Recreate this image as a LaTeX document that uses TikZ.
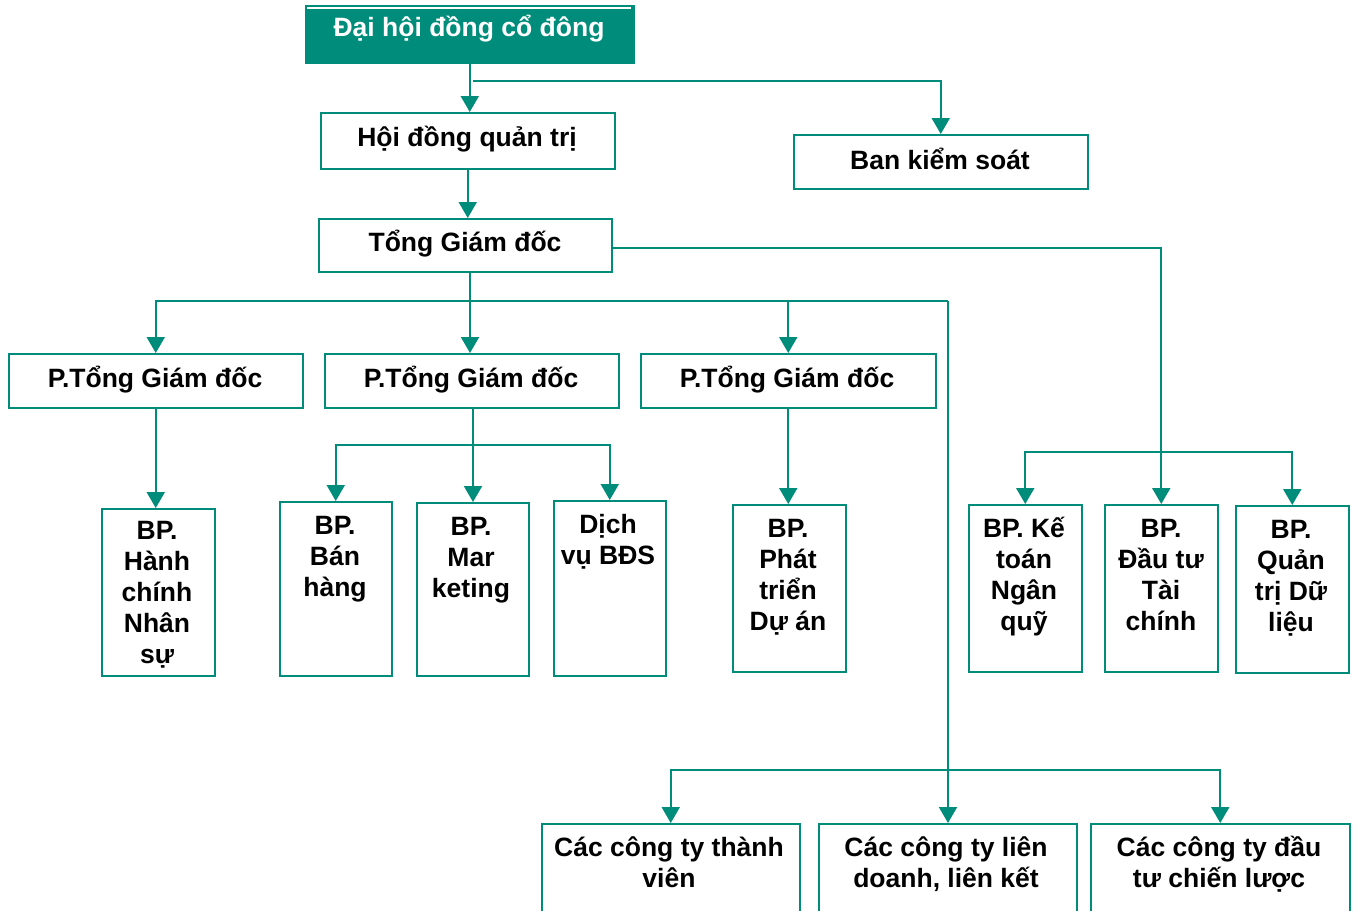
\documentclass[tikz,border=0pt]{standalone}
\usepackage{fontspec}
\setmainfont{Liberation Sans}
\usetikzlibrary{arrows.meta}
\definecolor{teal1}{RGB}{0,140,122}
\begin{document}
\begin{tikzpicture}[x=0.5pt,y=-0.5pt,
  box/.style={draw=teal1, line width=0.75pt, inner sep=0, anchor=north west},
  lbl/.style={font=\fontsize{13.25}{15.5}\selectfont\bfseries, align=center, inner sep=0},
  conn/.style={draw=teal1, line width=1pt},
  arr/.style={conn, -{Triangle[length=8pt,width=9pt]}}]
\clip (0,0) rectangle (1353,910);
\fill[white] (0,0) rectangle (1353,910);
% boxes
\node[box, fill=teal1, minimum width=164pt, minimum height=28.5pt] (dh) at (305,5) {};
\draw[white, line width=0.6pt] (307,8) -- (631,8);
\node[box, minimum width=147pt, minimum height=28pt] (hd) at (320,112) {};
\node[box, minimum width=147pt, minimum height=27pt] (bks) at (793,134) {};
\node[box, minimum width=146.5pt, minimum height=26.5pt] (tgd) at (318,218) {};
\node[box, minimum width=147pt, minimum height=27pt] (p1) at (8,353) {};
\node[box, minimum width=147pt, minimum height=27pt] (p2) at (324,353) {};
\node[box, minimum width=147.5pt, minimum height=27pt] (p3) at (640,353) {};
\node[box, minimum width=56.5pt, minimum height=83.5pt] (hc) at (101,508) {};
\node[box, minimum width=56pt, minimum height=87pt] (bh) at (279,501) {};
\node[box, minimum width=56pt, minimum height=86.5pt] (mk) at (416,502) {};
\node[box, minimum width=56pt, minimum height=87.5pt] (dv) at (553,500) {};
\node[box, minimum width=56.5pt, minimum height=83.5pt] (pt) at (732,504) {};
\node[box, minimum width=56.5pt, minimum height=83.5pt] (kt) at (968,504) {};
\node[box, minimum width=56.5pt, minimum height=83.5pt] (dt) at (1104,504) {};
\node[box, minimum width=56.5pt, minimum height=83.5pt] (qt) at (1235,505) {};
\node[box, minimum width=129pt, minimum height=53.5pt] (c1) at (541,823) {};
\node[box, minimum width=129pt, minimum height=53.5pt] (c2) at (818,823) {};
\node[box, minimum width=129.5pt, minimum height=53.5pt] (c3) at (1090,823) {};
% single-line labels
\node[lbl, anchor=base, text=white] (tdh) at (469,36.5) {Đại hội đồng cổ đông};
\node[lbl, anchor=base] (thd) at (467,146.5) {Hội đồng quản trị};
\node[lbl, anchor=base] (tbks) at (940,169.5) {Ban kiểm soát};
\node[lbl, anchor=base] (ttgd) at (465,251.5) {Tổng Giám đốc};
\node[lbl, anchor=base] (tp1) at (155,387.5) {P.Tổng Giám đốc};
\node[lbl, anchor=base] (tp2) at (471,387.5) {P.Tổng Giám đốc};
\node[lbl, anchor=base] (tp3) at (787,387.5) {P.Tổng Giám đốc};
% multi-line labels
\node[lbl, anchor=north] (thc) at (157,515.5) {\rule{0pt}{12pt}BP.\\Hành\\chính\\Nhân\\sự};
\node[lbl, anchor=north] (tbh) at (335,510.5) {\rule{0pt}{12pt}BP.\\Bán\\hàng};
\node[lbl, anchor=north] (tmk) at (471,511.5) {\rule{0pt}{12pt}BP.\\Mar\\keting};
\node[lbl, anchor=north] (tdv) at (608,509.5) {\rule{0pt}{12pt}Dịch\\vụ BĐS};
\node[lbl, anchor=north] (tpt) at (788,513.5) {\rule{0pt}{12pt}BP.\\Phát\\triển\\Dự án};
\node[lbl, anchor=north] (tkt) at (1024,513.5) {\rule{0pt}{12pt}BP. Kế\\toán\\Ngân\\quỹ};
\node[lbl, anchor=north] (tdt) at (1161,513.5) {\rule{0pt}{12pt}BP.\\Đầu tư\\Tài\\chính};
\node[lbl, anchor=north] (tqt) at (1291,514.5) {\rule{0pt}{12pt}BP.\\Quản\\trị Dữ\\liệu};
\node[lbl, anchor=north] (tc1) at (669,832.5) {\rule{0pt}{12pt}Các công ty thành\\viên};
\node[lbl, anchor=north] (tc2) at (946,832.5) {\rule{0pt}{12pt}Các công ty liên\\doanh, liên kết};
\node[lbl, anchor=north] (tc3) at (1219,832.5) {\rule{0pt}{12pt}Các công ty đầu\\tư chiến lược};
% connectors
\coordinate (j1) at (473,81);
\coordinate (t1) at (611,248);
\coordinate (k1) at (1162,452);
\coordinate (b1) at (470,301);
\coordinate (b2) at (948,301);
\coordinate (b3) at (948,770);
\coordinate (m1) at (473,445);
\draw[arr] (dh.south) -- (dh.south |- hd.north);
\draw[arr] (j1) -| (bks.north);
\draw[arr] (hd.south) -- (hd.south |- tgd.north);
\draw[arr] (t1) -| (dt.north);
\draw[conn] (k1 -| kt.north) -- (k1 -| qt.north);
\draw[arr] (k1) -| (kt.north);
\draw[arr] (k1) -| (qt.north);
\draw[conn] (b1 |- tgd.south) -- (b1);
\draw[conn] (b1 -| p1.north) -- (b2);
\draw[arr] (b1) -| (p1.north);
\draw[arr] (b1) -- (b1 |- p2.north);
\draw[arr] (b1) -| (p3.north);
\draw[conn] (b2) -- (b3);
\draw[arr] (b3) -- (b3 |- c2.north);
\draw[conn] (b3 -| c1.north) -- (b3 -| c3.north);
\draw[arr] (b3) -| (c1.north);
\draw[arr] (b3) -| (c3.north);
\draw[arr] (p1.south) -- (p1.south |- hc.north);
\draw[conn] (m1 |- p2.south) -- (m1);
\draw[conn] (m1 -| bh.north) -- (m1 -| dv.north);
\draw[arr] (m1) -- (m1 |- mk.north);
\draw[arr] (m1) -| (bh.north);
\draw[arr] (m1) -| (dv.north);
\draw[arr] (p3.south) -- (p3.south |- pt.north);
\end{tikzpicture}
\end{document}
